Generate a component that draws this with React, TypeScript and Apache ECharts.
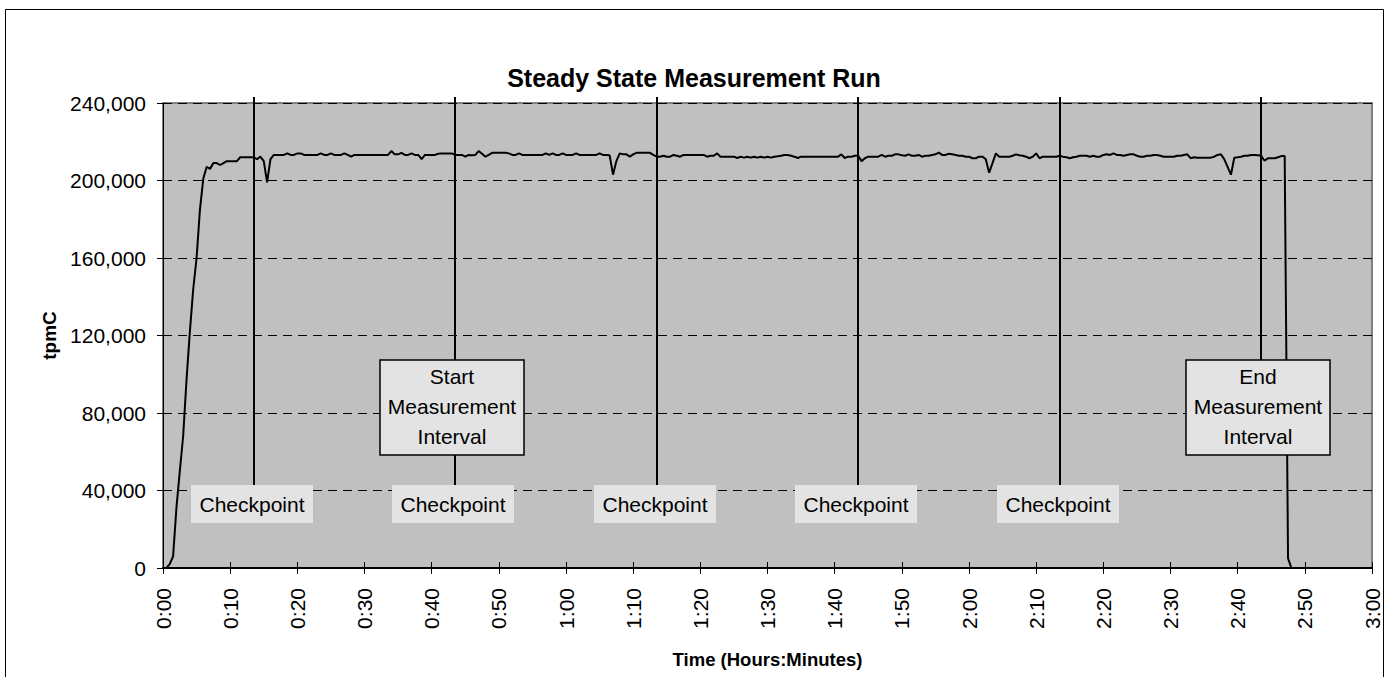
import React, { useEffect, useRef } from "react";
import * as echarts from "echarts";

const TITLE = "Steady State Measurement Run";
const X_NAME = "Time (Hours:Minutes)";
const Y_NAME = "tpmC";
const CHECKPOINT_LABEL = "Checkpoint";
const START_LABEL = ["Start", "Measurement", "Interval"];
const END_LABEL = ["End", "Measurement", "Interval"];

// sample step of the run data, in minutes
const STEP_MIN = 0.5;
// tpmC readings every 0.5 minute, from 0:00
const TPMC = [
  0, 0, 2000, 6000, 31000, 50000, 68000, 97000, 122000, 144000,
  160000, 185000, 201000, 207000, 206000, 209000, 209000, 208000, 209000, 210000,
  210000, 210000, 210000, 212000, 212000, 212000, 212000, 212000, 211000, 212300,
  210000, 199000, 211000, 213200, 213200, 213200, 213200, 214000, 213200, 213200,
  214000, 214000, 213200, 213200, 213200, 213200, 213200, 214000, 213200, 213200,
  214000, 213200, 213200, 213200, 214000, 213200, 212300, 213200, 213200, 213200,
  213200, 213200, 213200, 213200, 213200, 213200, 213200, 213200, 215200, 213500,
  213500, 214300, 213200, 213200, 214000, 213200, 213200, 211000, 213200, 213200,
  213200, 213200, 213800, 214000, 214000, 214000, 214000, 213200, 213200, 213200,
  212300, 213200, 213000, 213200, 215200, 213800, 212300, 213200, 214300, 214300,
  214300, 214300, 214300, 214000, 213200, 213200, 214000, 213200, 213200, 213200,
  213200, 213200, 213200, 213200, 214000, 213200, 214000, 213200, 213200, 214000,
  213200, 213200, 213200, 214000, 213200, 213200, 213200, 213200, 213200, 213200,
  214000, 213200, 213200, 213000, 203000, 210000, 214000, 213500, 213500, 212300,
  213500, 214300, 214300, 214300, 214300, 214300, 213200, 212300, 212300, 212800,
  212300, 212300, 213200, 212800, 212300, 213200, 213200, 213200, 213200, 213200,
  213200, 213200, 212300, 212800, 212800, 214000, 212300, 212300, 212300, 212300,
  212300, 211600, 212300, 211800, 212300, 211800, 212300, 211800, 212300, 211800,
  212300, 211800, 212300, 212500, 212800, 213200, 213200, 212800, 212300, 211600,
  212300, 212300, 212300, 212300, 212300, 212300, 212300, 212300, 212300, 212300,
  212300, 212300, 213500, 211600, 212300, 212300, 212800, 212800, 210000, 211500,
  212300, 212300, 212300, 212300, 213200, 212300, 212800, 212800, 213500, 213500,
  213000, 212800, 213500, 212800, 212800, 213200, 212300, 212800, 212800, 213200,
  213500, 214400, 213200, 213200, 213800, 213500, 213200, 212800, 212800, 212300,
  212300, 211500, 211500, 212300, 212300, 211000, 204000, 209000, 214000, 212300,
  212300, 212300, 212300, 212800, 213500, 213000, 212800, 212300, 211500, 212300,
  214000, 211500, 212300, 212300, 212300, 212300, 212300, 212800, 212300, 212000,
  211500, 212000, 212300, 212800, 212800, 212800, 212300, 212800, 212300, 212300,
  213200, 213500, 213200, 214000, 213200, 213200, 212800, 213200, 213500, 213500,
  212800, 212300, 212300, 212800, 212800, 213200, 213200, 212800, 212300, 212300,
  212300, 212300, 212800, 212800, 213200, 213500, 211500, 212000, 211800, 211800,
  211800, 211800, 211800, 212300, 213200, 213500, 211000, 207000, 203000, 211800,
  212000, 212300, 212800, 212800, 213200, 213200, 213000, 212800, 210200, 211500,
  211500, 211500, 212000, 212600, 212600, 5000, 0,
];

const CHECKPOINT_MIN = [13.5, 43.5, 73.5, 103.5, 133.5];
const START_MIN = 43.5;
const END_MIN = 163.5;

const X_MIN = 0;
const X_MAX = 180;
const X_STEP = 10;
const Y_MIN = 0;
const Y_MAX = 240000;
const Y_STEP = 40000;

const FONT = "'Liberation Sans', Arial, sans-serif";

function fmtTime(v: number) {
  const h = Math.floor(v / 60);
  const m = Math.round(v % 60);
  return `${h}:${String(m).padStart(2, "0")}`;
}

export default function App() {
  const ref = useRef<HTMLDivElement>(null);

  useEffect(() => {
    if (!ref.current) return;
    const chart = echarts.init(ref.current, undefined, { renderer: "svg" });

    const data = TPMC.map((v, i) => [i * STEP_MIN, v]);

    chart.setOption({
      animation: false,
      backgroundColor: "#ffffff",
      title: {
        text: TITLE,
        left: "center",
        top: 60,
        textStyle: { fontFamily: FONT, fontSize: 25, fontWeight: "bold", color: "#000" },
      },
      grid: {
        left: 163,
        right: 16,
        top: 103,
        bottom: 109,
        show: true,
        backgroundColor: "#c0c0c0",
        borderColor: "#808080",
        borderWidth: 2,
      },
      xAxis: [
        {
          type: "value",
          min: X_MIN,
          max: X_MAX,
          interval: X_STEP,
          position: "bottom",
          name: X_NAME,
          nameLocation: "middle",
          nameGap: 82,
          nameTextStyle: { fontFamily: FONT, fontSize: 18.5, fontWeight: "bold", color: "#000" },
          axisLine: { show: true, onZero: false, lineStyle: { color: "#000", width: 2 } },
          axisTick: { show: true, inside: false, length: 6, lineStyle: { color: "#000", width: 1 } },
          axisLabel: {
            rotate: 90,
            margin: 20,
            formatter: fmtTime,
            fontFamily: FONT,
            fontSize: 21,
            color: "#000",
          },
          splitLine: { show: false },
        },
        {
          type: "value",
          min: X_MIN,
          max: X_MAX,
          interval: X_STEP,
          position: "bottom",
          axisLine: { show: false },
          axisTick: { show: true, inside: true, length: 6, lineStyle: { color: "#000", width: 1 } },
          axisLabel: { show: false },
          splitLine: { show: false },
        },
      ],
      yAxis: [
        {
          type: "value",
          min: Y_MIN,
          max: Y_MAX,
          interval: Y_STEP,
          position: "left",
          name: Y_NAME,
          nameLocation: "middle",
          nameGap: 102,
          nameTextStyle: { fontFamily: FONT, fontSize: 19, fontWeight: "bold", color: "#000" },
          axisLine: { show: true, lineStyle: { color: "#000", width: 1 } },
          axisTick: { show: true, inside: false, length: 6, lineStyle: { color: "#000", width: 1 } },
          axisLabel: {
            margin: 17,
            formatter: (v: number) => v.toLocaleString("en-US"),
            fontFamily: FONT,
            fontSize: 21,
            color: "#000",
          },
          splitLine: { show: true, lineStyle: { color: "#000", width: 1, type: [9, 6] } },
        },
        {
          type: "value",
          min: Y_MIN,
          max: Y_MAX,
          interval: Y_STEP,
          position: "left",
          axisLine: { show: false },
          axisTick: { show: true, inside: true, length: 6, lineStyle: { color: "#000", width: 1 } },
          axisLabel: { show: false },
          splitLine: { show: false },
        },
      ],
      series: [
        {
          type: "line",
          data,
          xAxisIndex: 0,
          yAxisIndex: 0,
          showSymbol: false,
          symbol: "none",
          lineStyle: { color: "#000", width: 2 },
          z: 3,
        },
      ],
    });

    const px = (t: number) => chart.convertToPixel({ xAxisIndex: 0 }, t) as number;
    const topY = (chart.convertToPixel({ yAxisIndex: 0 }, Y_MAX) as number) - 6;

    const elements: any[] = [];
    // outer border
    elements.push({
      type: "rect",
      shape: { x: 5.5, y: 9.5, width: 1378, height: 672 },
      style: { fill: "none", stroke: "#000", lineWidth: 1 },
      z: 1,
      silent: true,
    });

    const cpTop = 485;
    const cpH = 38;
    const cpW = 122;
    CHECKPOINT_MIN.forEach((t) => {
      const x = Math.round(px(t));
      elements.push({
        type: "line",
        shape: { x1: x, y1: topY, x2: x, y2: cpTop },
        style: { stroke: "#000", lineWidth: 2 },
        z: 50,
      });
      elements.push({
        type: "rect",
        shape: { x: x - cpW / 2 - 2, y: cpTop, width: cpW, height: cpH },
        style: { fill: "#e3e3e3", stroke: null },
        z: 60,
      });
      elements.push({
        type: "text",
        x: x - 2,
        y: cpTop + cpH / 2,
        style: {
          text: CHECKPOINT_LABEL,
          fontFamily: FONT,
          fontSize: 21,
          fill: "#000",
          align: "center",
          verticalAlign: "middle",
        },
        z: 61,
      });
    });

    const boxTop = 360;
    const boxH = 95;
    const boxW = 144;
    const drawBox = (t: number, lines: string[], lineDown: boolean) => {
      const x = Math.round(px(t));
      if (!lineDown) {
        elements.push({
          type: "line",
          shape: { x1: x, y1: topY, x2: x, y2: boxTop },
          style: { stroke: "#000", lineWidth: 2 },
          z: 50,
        });
      }
      const cx = x - 3;
      elements.push({
        type: "rect",
        shape: { x: cx - boxW / 2, y: boxTop, width: boxW, height: boxH },
        style: { fill: "#e3e3e3", stroke: "#000", lineWidth: 1.5 },
        z: 70,
      });
      elements.push({
        type: "text",
        x: cx,
        y: boxTop + boxH / 2 - 1,
        style: {
          text: lines.join("\n"),
          fontFamily: FONT,
          fontSize: 21,
          lineHeight: 30,
          fill: "#000",
          align: "center",
          verticalAlign: "middle",
        },
        z: 71,
      });
    };
    drawBox(START_MIN, START_LABEL, true);
    drawBox(END_MIN, END_LABEL, false);

    chart.setOption({ graphic: { elements } });

    return () => chart.dispose();
  }, []);

  return (
    <div
      ref={ref}
      style={{ position: "absolute", left: 0, top: 0, width: 1388, height: 677 }}
    />
  );
}
